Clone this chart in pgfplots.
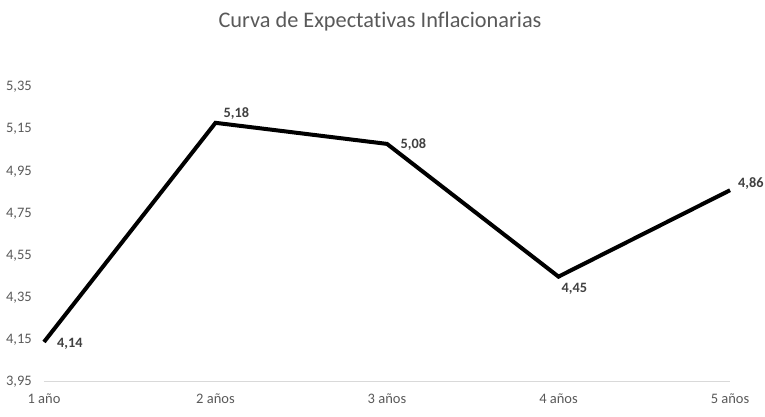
\documentclass[border=0pt]{standalone}
\usepackage{pgfplots}
\pgfplotsset{compat=1.18}
\usepackage{fontspec}
\setmainfont[Ligatures=NoCommon]{Carlito}
\definecolor{tickgray}{HTML}{595959}
\definecolor{labgray}{HTML}{404040}
\definecolor{axgray}{HTML}{D9D9D9}
\begin{document}
\begin{tikzpicture}[x=1pt,y=1pt]
\begin{axis}[
  at={(0pt,0pt)}, anchor=south west,
  scale only axis,
  width=686pt, height=295pt,
  xmin=0, xmax=4,
  ymin=3.95, ymax=5.35,
  axis x line*=bottom,
  axis y line*=left,
  x axis line style={draw=axgray, line width=1pt, -},
  y axis line style={draw=none},
  major tick length=0pt,
  xtick={0,1,2,3,4},
  xticklabels={1 año, 2 años, 3 años, 4 años, 5 años},
  ytick={3.95,4.15,4.35,4.55,4.75,4.95,5.15,5.35},
  yticklabels={{3,95},{4,15},{4,35},{4,55},{4,75},{4,95},{5,15},{5,35}},
  tick label style={font=\fontsize{14.5pt}{17pt}\selectfont, text=tickgray, inner sep=0pt},
  yticklabel style={anchor=east, xshift=-12pt},
  xticklabel style={anchor=north, yshift=-12pt},
  /pgf/number format/assume math mode=true,
  clip=false,
]
\addplot[black, line width=4pt, line join=miter, mark=none] coordinates {
  (0,4.14) (1,5.18) (2,5.08) (3,4.45) (4,4.86)
};
\tikzset{dl/.style={font=\fontsize{14.3pt}{17pt}\selectfont\bfseries, text=labgray, anchor=west, inner sep=0pt}}
\node[dl, xshift=13pt, yshift=-1.5pt] at (axis cs:0,4.14) {4,14};
\node[dl, xshift=8pt, yshift=9.5pt] at (axis cs:1,5.18) {5,18};
\node[dl, xshift=13.5pt, yshift=-1pt] at (axis cs:2,5.08) {5,08};
\node[dl, xshift=3pt, yshift=-12pt] at (axis cs:3,4.45) {4,45};
\node[dl, xshift=8pt, yshift=7pt] at (axis cs:4,4.86) {4,86};
\end{axis}
\node[font=\fontsize{22.3pt}{26pt}\selectfont, text=tickgray] at (336pt,360pt) {Curva de Expectativas Inflacionarias};
\path[use as bounding box] (-44pt,-35pt) rectangle (721pt,382pt);
\end{tikzpicture}
\end{document}
